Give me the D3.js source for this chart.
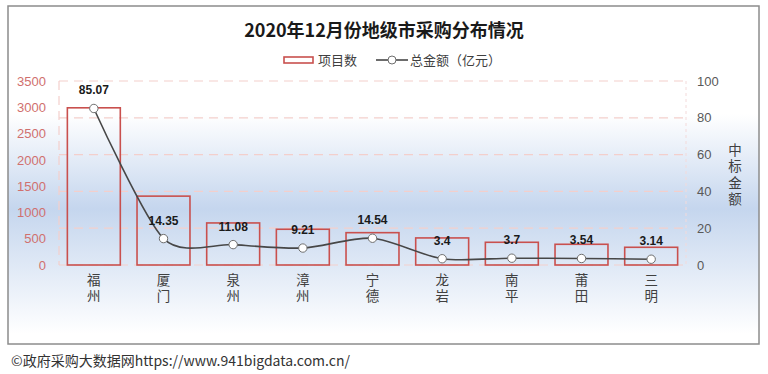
<!DOCTYPE html>
<html>
<head>
<meta charset="utf-8">
<script src="https://cdn.jsdelivr.net/npm/d3@7"></script>
<style>
body{margin:0;background:#fff;font-family:"Noto Sans CJK SC","Noto Sans",sans-serif;}
</style>
</head>
<body>
<script>
var cities = ["福州","厦门","泉州","漳州","宁德","龙岩","南平","莆田","三明"];
var projects = [2990,1310,800,680,615,515,432,394,337];
var amounts = [85.07,14.35,11.08,9.21,14.54,3.4,3.7,3.54,3.14];
var leftTicks = [0,500,1000,1500,2000,2500,3000,3500];
var rightTicks = [0,20,40,60,80,100];

var W = 768, H = 374;
var svg = d3.select("body").append("svg").attr("width",W).attr("height",H);

var defs = svg.append("defs");
var grad = defs.append("linearGradient").attr("id","bg")
      .attr("x1",0).attr("y1",0).attr("x2",0).attr("y2",1);
grad.append("stop").attr("offset","0%").attr("stop-color","#ffffff");
grad.append("stop").attr("offset","32%").attr("stop-color","#ffffff");
grad.append("stop").attr("offset","60%").attr("stop-color","#c5d6ee");
grad.append("stop").attr("offset","97%").attr("stop-color","#ffffff");

// frame
svg.append("rect").attr("x",8).attr("y",6).attr("width",751).attr("height",338)
      .attr("fill","url(#bg)").attr("stroke","#8c8c8c").attr("stroke-width",1.5);

var pLeft = 59, pRight = 686, pTop = 81, pBottom = 265;

var x = d3.scaleBand().domain(cities).range([pLeft,pRight]).paddingInner(0.24).paddingOuter(0.12);
var yL = d3.scaleLinear().domain([0,3500]).range([pBottom,pTop]);
var yR = d3.scaleLinear().domain([0,100]).range([pBottom,pTop]);

// gridlines from right axis
svg.append("g").selectAll("line")
      .data(rightTicks)
      .enter().append("line")
      .attr("x1",pLeft).attr("x2",pRight)
      .attr("y1",function(d){return yR(d);})
      .attr("y2",function(d){return yR(d);})
      .attr("stroke","#f3cfcc").attr("stroke-width",1.2)
      .attr("stroke-dasharray","9,6");

svg.append("line").attr("x1",pLeft).attr("x2",pLeft).attr("y1",pTop).attr("y2",pBottom)
      .attr("stroke","#f3cfcc").attr("stroke-width",1.2).attr("stroke-dasharray","9,6");
svg.append("line").attr("x1",pRight).attr("x2",pRight).attr("y1",pTop).attr("y2",pBottom)
      .attr("stroke","#f3dada").attr("stroke-width",1).attr("stroke-dasharray","3,3");

// left axis
var axL = svg.append("g").attr("transform","translate("+(pLeft-13)+",0)")
      .call(d3.axisLeft(yL).tickValues(leftTicks).tickFormat(d3.format("d")).tickSize(0).tickPadding(0));
axL.select(".domain").remove();
axL.selectAll("text").attr("fill","#d0706e").attr("font-size",13)
      .attr("font-family","Liberation Sans, Arial, sans-serif");

// right axis
var axR = svg.append("g").attr("transform","translate("+(pRight+11)+",0)")
      .call(d3.axisRight(yR).tickValues(rightTicks).tickFormat(d3.format("d")).tickSize(0).tickPadding(0));
axR.select(".domain").remove();
axR.selectAll("text").attr("fill","#595959").attr("font-size",13)
      .attr("font-family","Liberation Sans, Arial, sans-serif");

// right axis title, written vertically
svg.append("text").text("中标金额")
      .attr("x",735).attr("y",143)
      .style("writing-mode","vertical-rl").style("letter-spacing","3px")
      .attr("font-size",13.5).attr("fill","#404040");

// bars
svg.append("g").selectAll("rect")
      .data(projects)
      .enter().append("rect")
      .attr("x",function(d,i){return x(cities[i]);})
      .attr("y",function(d){return yL(d);})
      .attr("width",x.bandwidth())
      .attr("height",function(d){return pBottom-yL(d);})
      .attr("fill","none").attr("stroke","#c9504e").attr("stroke-width",1.6);

// line
var line = d3.line()
      .x(function(d,i){return x(cities[i])+x.bandwidth()/2;})
      .y(function(d){return yR(d);})
      .curve(d3.curveCardinal.tension(0.2));
svg.append("path").datum(amounts).attr("d",line)
      .attr("fill","none").attr("stroke","#474747").attr("stroke-width",1.6);

svg.append("g").selectAll("circle")
      .data(amounts)
      .enter().append("circle")
      .attr("cx",function(d,i){return x(cities[i])+x.bandwidth()/2;})
      .attr("cy",function(d){return yR(d);})
      .attr("r",4.2).attr("fill","#fff").attr("stroke","#6e6e6e").attr("stroke-width",1);

svg.append("g").selectAll("text")
      .data(amounts)
      .enter().append("text")
      .attr("x",function(d,i){return x(cities[i])+x.bandwidth()/2;})
      .attr("y",function(d){return yR(d)-14;})
      .attr("text-anchor","middle").attr("font-size",12).attr("font-weight","bold")
      .attr("font-family","Liberation Sans, Arial, sans-serif").attr("fill","#1a1a1a")
      .text(function(d){return d;});

// x labels, written vertically
svg.append("g").selectAll("text")
      .data(cities)
      .enter().append("text")
      .attr("x",function(d){return x(d)+x.bandwidth()/2;})
      .attr("y",273)
      .style("writing-mode","vertical-rl").style("letter-spacing","3px")
      .attr("font-size",13.5).attr("fill","#404040")
      .text(function(d){return d;});

// title
svg.append("text").text("2020年12月份地级市采购分布情况")
      .attr("x",384).attr("y",37).attr("text-anchor","middle")
      .attr("font-size",18).attr("font-weight","bold").attr("fill","#1a1a1a");

// legend
svg.append("rect").attr("x",284).attr("y",57).attr("width",29).attr("height",6)
      .attr("fill","#fff").attr("stroke","#c9504e").attr("stroke-width",1.6);
svg.append("text").text("项目数").attr("x",318).attr("y",65)
      .attr("font-size",13).attr("fill","#404040");
svg.append("line").attr("x1",376).attr("x2",408).attr("y1",60).attr("y2",60)
      .attr("stroke","#474747").attr("stroke-width",1.6);
svg.append("circle").attr("cx",392).attr("cy",60).attr("r",4)
      .attr("fill","#fff").attr("stroke","#6e6e6e");
svg.append("text").text("总金额（亿元）").attr("x",410).attr("y",65)
      .attr("font-size",13).attr("fill","#404040");

// footer
svg.append("text").text("©政府采购大数据网https://www.941bigdata.com.cn/")
      .attr("x",11).attr("y",366).attr("font-size",14).attr("fill","#333");
</script>
</body>
</html>
